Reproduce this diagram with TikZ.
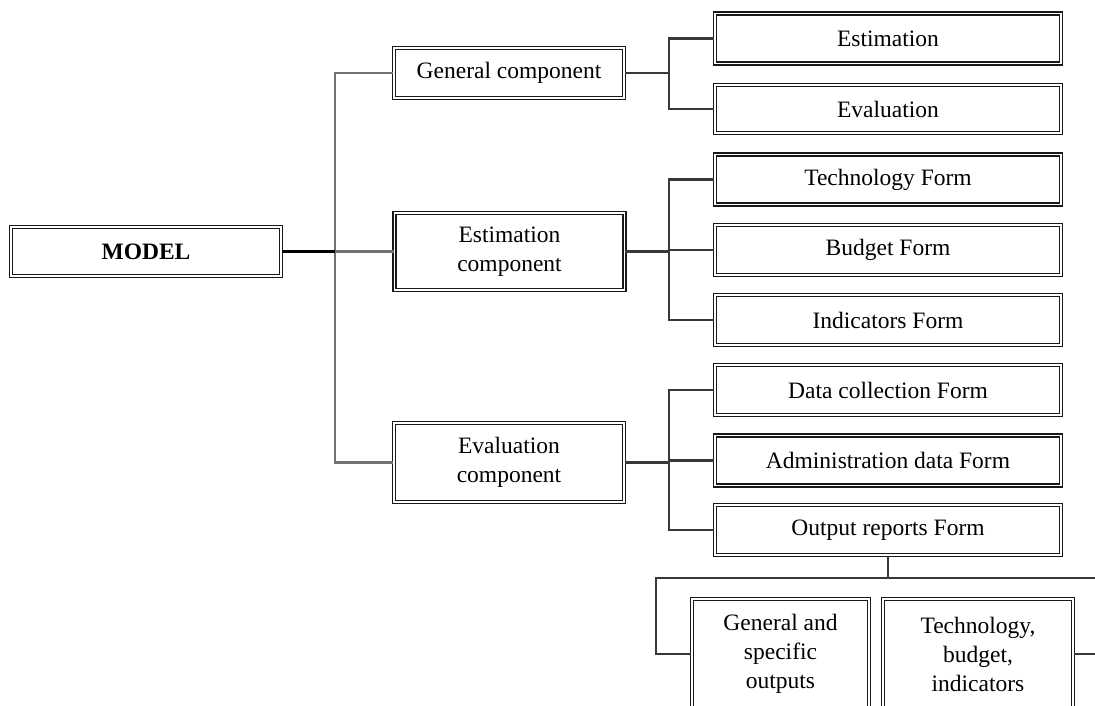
\documentclass[tikz,border=0pt]{standalone}
\usepackage{fontspec}
\setmainfont{Liberation Serif}
\begin{document}
\begin{tikzpicture}[x=1pt,y=-1pt,
  box/.style={draw=black!90, double=white, line width=1.6pt, double distance=1.6pt,
    fill=white, inner sep=0pt, align=center, minimum height=50pt,
    font=\fontsize{23.5}{29}\selectfont},
  form/.style={box, minimum width=346pt},
  comp/.style={box, minimum width=230pt},
  conn/.style={draw=black!78, line width=2.2pt},
  trunkl/.style={draw=black!55, line width=2.4pt},
  mainl/.style={draw=black, line width=3pt}]
\useasboundingbox (0,0) rectangle (1095,705);
\clip (0,0) rectangle (1095,705);

\node[box, minimum width=270pt, minimum height=49pt, font=\fontsize{23.5}{29}\selectfont\bfseries] (model) at (146,251.5) {MODEL};

\node[comp] (gen) at (509,73) {General component};
\node[comp, minimum height=77pt] (estc) at (509.5,251.5) {Estimation\\component};
\node[comp, minimum height=79pt] (evc) at (509,462.5) {Evaluation\\component};

\node[form] (est) at (888,38.5) {Estimation};
\node[form, minimum height=48pt] (eva) at (888,109) {Evaluation};
\node[form] (tech) at (888,179.5) {Technology Form};
\node[form] (bud) at (888,250) {Budget Form};
\node[form] (ind) at (888,320) {Indicators Form};
\node[form] (dc) at (888,390) {Data collection Form};
\node[form] (adm) at (888,460.5) {Administration data Form};
\node[form] (out) at (888,530) {Output reports Form};

\node[box, minimum width=177pt, minimum height=110pt] (gso) at (780.5,654) {General and\\specific\\outputs};
\node[box, minimum width=190pt, minimum height=110pt] (tbi) at (978,654) {Technology,\\budget,\\indicators};

\coordinate (trunk) at (335,251.5);
\coordinate (gj) at (669,73);
\coordinate (ej) at (669,251.5);
\coordinate (vj) at (669,462.5);
\coordinate (oj) at (888,578);
\coordinate (ol) at (656,578);
\coordinate (orr) at (1095,578);
\coordinate (rt) at (1095,654);

\draw[trunkl] (gen.west) -| (trunk) |- (evc.west);
\draw[trunkl] (trunk) -- (estc.west);
\draw[mainl] (model.east) -- (trunk);

\draw[conn] (gen.east) -- (gj);
\draw[conn] (est.west) -| (gj) |- (eva.west);

\draw[conn] (estc.east) -- (ej);
\draw[conn] (tech.west) -| (ej) |- (ind.west);
\draw[conn] (ej) |- (bud.west);

\draw[conn] (evc.east) -- (vj);
\draw[conn] (dc.west) -| (vj) |- (out.west);
\draw[conn] (vj) |- (adm.west);

\draw[conn] (out.south) -- (oj);
\draw[conn] (orr) -- (ol) |- (gso.west);
\draw[conn] (tbi.east) -- (rt);
\end{tikzpicture}
\end{document}
